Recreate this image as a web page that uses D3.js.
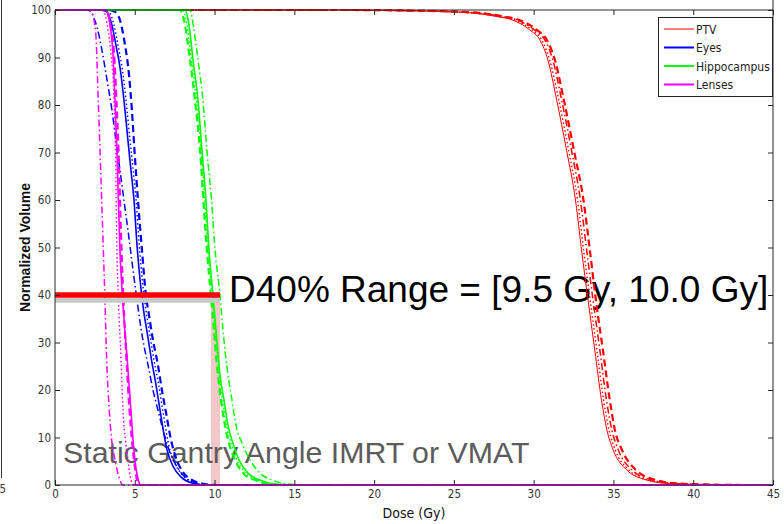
<!DOCTYPE html>
<html>
  <head>
    <meta charset="utf-8" />
    <title>DVH comparison</title>
    <script src="https://d3js.org/d3.v7.min.js"></script>
    <style>
      body { margin: 0; background: #fff; }
      .narrow { font-family: "Liberation Sans Narrow", "DejaVu Sans Condensed", "Liberation Sans", sans-serif; font-stretch: condensed; }
    </style>
  </head>
  <body>
    <svg width="784" height="524"></svg>
    <script>
      // axis ticks
      var xTicks = [0, 5, 10, 15, 20, 25, 30, 35, 40, 45];
      var yTicks = [0, 10, 20, 30, 40, 50, 60, 70, 80, 90, 100];

      var structures = ["PTV", "Eyes", "Hippocampus", "Lenses"];

      // [dose (Gy), volume (%)]
      var ptvSolid = [[0,100],[17.23,100],[22.87,99.8],[26.0,99.4],[27.57,98.7],[28.82,97.7],[29.76,95.8],[30.39,93.7],[30.89,89.5],[31.44,81.1],[32.06,70.5],[32.62,60],[33.0,49.5],[33.41,38.9],[33.83,28.4],[34.25,17.9],[34.59,11.6],[34.98,7.4],[35.82,3.2],[37.07,1.05],[38.53,0.3],[40.41,0.1],[42.92,0],[45,0]];
      var ptvDotted = [[0,100],[17.35,100],[23.0,99.8],[26.1,99.4],[27.7,98.7],[28.95,97.7],[29.9,95.8],[30.5,93.7],[31.0,89.5],[31.57,81.1],[32.19,70.5],[32.75,60],[33.13,49.5],[33.54,38.9],[33.96,28.4],[34.38,17.9],[34.72,11.6],[35.11,7.4],[35.95,3.2],[37.2,1.05],[38.7,0.3],[40.6,0.1],[43.1,0],[45,0]];
      var ptvDashDot = [[0,100],[17.5,100],[23.2,99.8],[26.3,99.4],[27.9,98.7],[29.1,97.7],[30.05,95.8],[30.7,93.7],[31.2,89.5],[31.75,81.1],[32.37,70.5],[32.93,60],[33.32,49.5],[33.72,38.9],[34.15,28.4],[34.56,17.9],[34.9,11.6],[35.3,7.4],[36.15,3.2],[37.4,1.05],[38.9,0.3],[40.8,0.1],[43.3,0],[45,0]];
      var ptvDashed = [[0,100],[17.86,100],[23.5,99.8],[26.57,99.4],[28.01,98.7],[29.26,97.7],[30.2,95.8],[30.83,93.7],[31.33,89.5],[31.89,81.1],[32.52,70.5],[33.12,60],[33.52,49.5],[33.9,38.9],[34.34,28.4],[34.77,17.9],[35.09,11.6],[35.53,7.4],[36.4,3.2],[37.66,1.05],[39.16,0.3],[41.04,0.1],[43.55,0],[45,0]];

      var eyeDashDot = [[0,100],[2.07,100],[2.63,96.4],[2.94,91.6],[3.26,85.3],[3.57,78.9],[3.82,72.6],[4.07,66.3],[4.32,60],[4.57,53.7],[4.89,45.3],[5.14,38.9],[5.51,30.5],[5.83,25.3],[6.14,20],[6.45,15.8],[6.77,11.6],[7.08,8],[7.52,4.6],[8.02,2.1],[8.65,0.6],[9.71,0],[45,0]];
      var eyeSolid = [[0,100],[2.82,100],[3.26,99.6],[3.57,96.8],[3.82,92.6],[4.07,88],[4.32,81.1],[4.57,72.6],[4.76,66.3],[4.95,60],[5.14,50.5],[5.33,43.2],[5.55,36.8],[5.8,31.6],[6.05,26.3],[6.33,21.1],[6.58,15.8],[7.02,7.4],[7.39,4.0],[7.89,1.7],[8.58,0.4],[9.4,0],[45,0]];
      var eyeDotted = [[0,100],[2.95,100],[3.4,99.5],[3.7,96.8],[3.95,92.6],[4.2,88],[4.45,81.1],[4.7,72.6],[4.9,66.3],[5.08,60],[5.28,50.5],[5.47,43.2],[5.7,36.8],[5.95,31.6],[6.2,26.3],[6.5,21.1],[6.75,15.8],[7.2,7.4],[7.6,4.0],[8.1,1.7],[8.8,0.4],[9.6,0],[45,0]];
      var eyeDashed = [[0,100],[3.32,100],[3.76,99.6],[4.07,97.9],[4.39,92.6],[4.64,86.3],[4.82,78.9],[4.98,70.5],[5.2,60],[5.45,49.5],[5.7,40],[5.89,35.8],[6.14,30.5],[6.45,25.3],[6.7,20],[6.95,15.4],[7.27,9.5],[7.58,5.7],[8.02,2.7],[8.58,1.05],[9.4,0.2],[10.03,0],[45,0]];

      var hippoDashed = [[0,100],[7.83,100],[8.08,97.9],[8.46,89.5],[8.77,81.1],[9.09,70.5],[9.3,60],[9.52,49.5],[9.77,40],[9.96,32.6],[10.21,23.2],[10.4,17.9],[10.65,12.6],[10.9,8.8],[11.28,5.3],[11.78,2.5],[12.53,1.05],[13.47,0.2],[14.72,0],[45,0]];
      var hippoDotted = [[0,100],[8.0,100],[8.25,97.2],[8.55,89.5],[8.87,81.1],[9.15,70.5],[9.38,60],[9.59,49.5],[9.84,40],[10.03,32.6],[10.28,23.2],[10.5,17.9],[10.75,12.6],[11.03,8.8],[11.4,5.3],[11.95,2.5],[12.7,1.05],[13.6,0.2],[14.9,0],[45,0]];
      var hippoSolid = [[0,100],[8.15,100],[8.4,96.8],[8.65,89.5],[8.96,81.1],[9.21,70.5],[9.46,60],[9.65,49.5],[9.9,40],[10.09,32.6],[10.34,23.2],[10.59,17.9],[10.84,12.6],[11.15,8.8],[11.53,5.3],[12.09,2.5],[12.84,1.05],[13.78,0.2],[15.04,0],[45,0]];
      var hippoDashDot = [[0,100],[8.46,100],[8.71,95.8],[8.96,89.5],[9.27,81.1],[9.52,70.5],[9.81,60],[10.03,49.5],[10.34,40],[10.53,32.6],[10.84,23.2],[11.09,17.9],[11.34,12.6],[11.72,8.8],[12.22,5.3],[12.84,2.5],[13.6,1.05],[14.6,0.2],[15.66,0],[45,0]];

      var lensDashDot = [[0,100],[2.0,100],[2.3,99.4],[2.55,95.2],[2.71,81.1],[2.82,70.5],[3.03,49.5],[3.13,38.9],[3.24,26.3],[3.4,15.8],[3.55,9.5],[3.76,5.3],[4.07,1.05],[4.26,0],[45,0]];
      var lensDotted = [[0,100],[3.0,100],[3.32,95.8],[3.51,90.9],[3.7,81.1],[3.79,70.5],[3.88,49.5],[3.98,38.9],[4.14,26.3],[4.26,15.8],[4.42,9.5],[4.57,5.3],[4.76,1.05],[4.95,0],[45,0]];
      var lensSolid = [[0,100],[3.15,100],[3.45,96.8],[3.63,90.9],[3.76,81.1],[3.88,70.5],[4.07,49.5],[4.24,38.9],[4.53,26.3],[4.76,15.8],[4.89,9.5],[5.01,5.3],[5.22,1.05],[5.39,0],[45,0]];
      var lensDashed = [[0,100],[3.2,100],[3.51,96.2],[3.7,90.9],[3.85,81.1],[3.98,70.5],[4.17,49.5],[4.29,38.9],[4.48,26.3],[4.67,15.8],[4.82,9.5],[4.95,5.3],[5.14,1.05],[5.26,0],[45,0]];

      // D40% marker
      var d40Vol = 40;
      var d40Shadow = 38.9;
      var d40Band = [9.77, 10.34];
      var d40Label = "D40% Range = [9.5 Gy, 10.0 Gy]";
      var techLabel = "Static Gantry Angle IMRT or VMAT";

      var colors = { PTV: "#ff0000", Eyes: "#0000ff", Hippocampus: "#00ff00", Lenses: "#ff00ff" };
      var dashes = { solid: null, dashed: "7,4", dotted: "1.5,2.5", dashdot: "7,3,1.5,3" };
      var widths = { solid: 1.6, dashed: 2.2, dotted: 1.4, dashdot: 1.5 };

      var curves = [
        { s: "PTV", ls: "solid", d: ptvSolid, w: 1 },
        { s: "PTV", ls: "dotted", d: ptvDotted },
        { s: "PTV", ls: "dashdot", d: ptvDashDot },
        { s: "PTV", ls: "dashed", d: ptvDashed },
        { s: "Eyes", ls: "dashdot", d: eyeDashDot },
        { s: "Eyes", ls: "solid", d: eyeSolid },
        { s: "Eyes", ls: "dotted", d: eyeDotted },
        { s: "Eyes", ls: "dashed", d: eyeDashed },
        { s: "Hippocampus", ls: "dashed", d: hippoDashed },
        { s: "Hippocampus", ls: "dotted", d: hippoDotted },
        { s: "Hippocampus", ls: "solid", d: hippoSolid },
        { s: "Hippocampus", ls: "dashdot", d: hippoDashDot },
        { s: "Lenses", ls: "dashdot", d: lensDashDot },
        { s: "Lenses", ls: "dotted", d: lensDotted },
        { s: "Lenses", ls: "solid", d: lensSolid },
        { s: "Lenses", ls: "dashed", d: lensDashed }
      ];

      var svg = d3.select("svg");
      svg.append("rect").attr("width", 784).attr("height", 524).attr("fill", "#fff");

      var x = d3.scaleLinear().domain([0, 45]).range([55, 773]);
      var y = d3.scaleLinear().domain([0, 100]).range([485, 10]);

      // bits of the neighbouring panel at the left edge
      svg.append("line").attr("x1", 1.5).attr("x2", 1.5).attr("y1", 0).attr("y2", 478)
        .attr("stroke", "#333").attr("stroke-width", 1);
      svg.append("text").attr("class", "narrow").attr("x", 6).attr("y", 493)
        .attr("text-anchor", "end").style("font-size", "11.5px").attr("fill", "#333").text("5");

      // pink band under the curves
      svg.append("rect")
        .attr("x", x(d40Band[0])).attr("width", x(d40Band[1]) - x(d40Band[0]))
        .attr("y", y(d40Vol)).attr("height", y(0) - y(d40Vol))
        .attr("fill", "#f4c8c8");

      // annotation text
      svg.append("text").attr("x", 63).attr("y", 463)
        .style("font-family", "Liberation Sans, Arial, sans-serif").style("font-size", "30.3px")
        .attr("fill", "#5c5c5c").text(techLabel);
      svg.append("text").attr("x", 229).attr("y", 302)
        .style("font-family", "Liberation Sans, Arial, sans-serif").style("font-size", "37px")
        .attr("fill", "#000").text(d40Label);

      var line = d3.line()
        .x(function (d) { return x(d[0]); })
        .y(function (d) { return y(d[1]); })
        .curve(d3.curveMonotoneX);

      svg.append("g").selectAll("path")
        .data(curves)
        .enter()
        .append("path")
        .attr("d", function (c) { return line(c.d); })
        .attr("fill", "none")
        .attr("stroke", function (c) { return colors[c.s]; })
        .attr("stroke-width", function (c) { return c.w || widths[c.ls]; })
        .attr("stroke-dasharray", function (c) { return dashes[c.ls]; });

      // D40 bar with its grey shadow
      svg.append("line")
        .attr("x1", x(0)).attr("x2", x(d40Band[1]))
        .attr("y1", y(d40Shadow)).attr("y2", y(d40Shadow))
        .attr("stroke", "#c8c8c8").attr("stroke-width", 5);
      svg.append("line")
        .attr("x1", x(0)).attr("x2", x(d40Band[1]))
        .attr("y1", y(d40Vol)).attr("y2", y(d40Vol))
        .attr("stroke", "#ff0000").attr("stroke-width", 5.6);

      // axes, matlab style: ticks pointing inwards on all four sides
      var axisColor = "#262626";
      function styleAxis(g) {
        g.selectAll(".domain").remove();
        g.selectAll(".tick line").attr("stroke", axisColor);
        g.selectAll(".tick text").attr("class", "narrow").attr("fill", "#333").style("font-size", "11.5px");
      }

      svg.append("g").attr("transform", "translate(0," + y(0) + ")")
        .call(d3.axisBottom(x).tickValues(xTicks).tickSize(-5).tickPadding(5))
        .call(styleAxis);
      svg.append("g").attr("transform", "translate(0," + y(100) + ")")
        .call(d3.axisTop(x).tickValues(xTicks).tickSize(-5).tickFormat(""))
        .call(styleAxis);
      svg.append("g").attr("transform", "translate(" + x(0) + ",0)")
        .call(d3.axisLeft(y).tickValues(yTicks).tickSize(-5).tickPadding(4))
        .call(styleAxis);
      svg.append("g").attr("transform", "translate(" + x(45) + ",0)")
        .call(d3.axisRight(y).tickValues(yTicks).tickSize(-5).tickFormat(""))
        .call(styleAxis);

      // box
      svg.append("path")
        .attr("d", "M" + x(0) + "," + y(100) + "H" + x(45) + "M" + x(45) + ",0V" + y(0)
          + "M" + x(0) + "," + y(100) + "V" + y(0) + "H" + x(45))
        .attr("fill", "none").attr("stroke", axisColor).attr("stroke-width", 1);

      // axis titles
      svg.append("text").attr("class", "narrow")
        .attr("x", (x(0) + x(45)) / 2).attr("y", 518)
        .attr("text-anchor", "middle").style("font-size", "14px").attr("fill", "#111")
        .text("Dose (Gy)");
      svg.append("text")
        .attr("transform", "translate(29.5," + y(50) + ") rotate(-90)")
        .attr("text-anchor", "middle")
        .style("font-family", "Liberation Sans, Arial, sans-serif")
        .style("font-size", "14px").style("font-weight", "bold").attr("fill", "#111")
        .text("Normalized Volume");

      // legend
      var lg = svg.append("g").attr("transform", "translate(658,17)");
      lg.append("rect").attr("x", 0.5).attr("y", 0.5).attr("width", 114).attr("height", 79)
        .attr("fill", "#fff").attr("stroke", "#222").attr("stroke-width", 1);
      var item = lg.selectAll(".item")
        .data(structures)
        .enter()
        .append("g")
        .attr("class", "item")
        .attr("transform", function (d, i) { return "translate(0," + (12 + i * 18.5) + ")"; });
      item.append("line").attr("x1", 6).attr("x2", 36).attr("y1", 0).attr("y2", 0)
        .attr("stroke", function (d) { return colors[d]; })
        .attr("stroke-width", function (d) { return d == "PTV" ? 1 : 2; });
      item.append("text").attr("class", "narrow").attr("x", 38).attr("y", 4.5)
        .style("font-size", "12px").attr("fill", "#222")
        .text(function (d) { return d; });
    </script>
  </body>
</html>
